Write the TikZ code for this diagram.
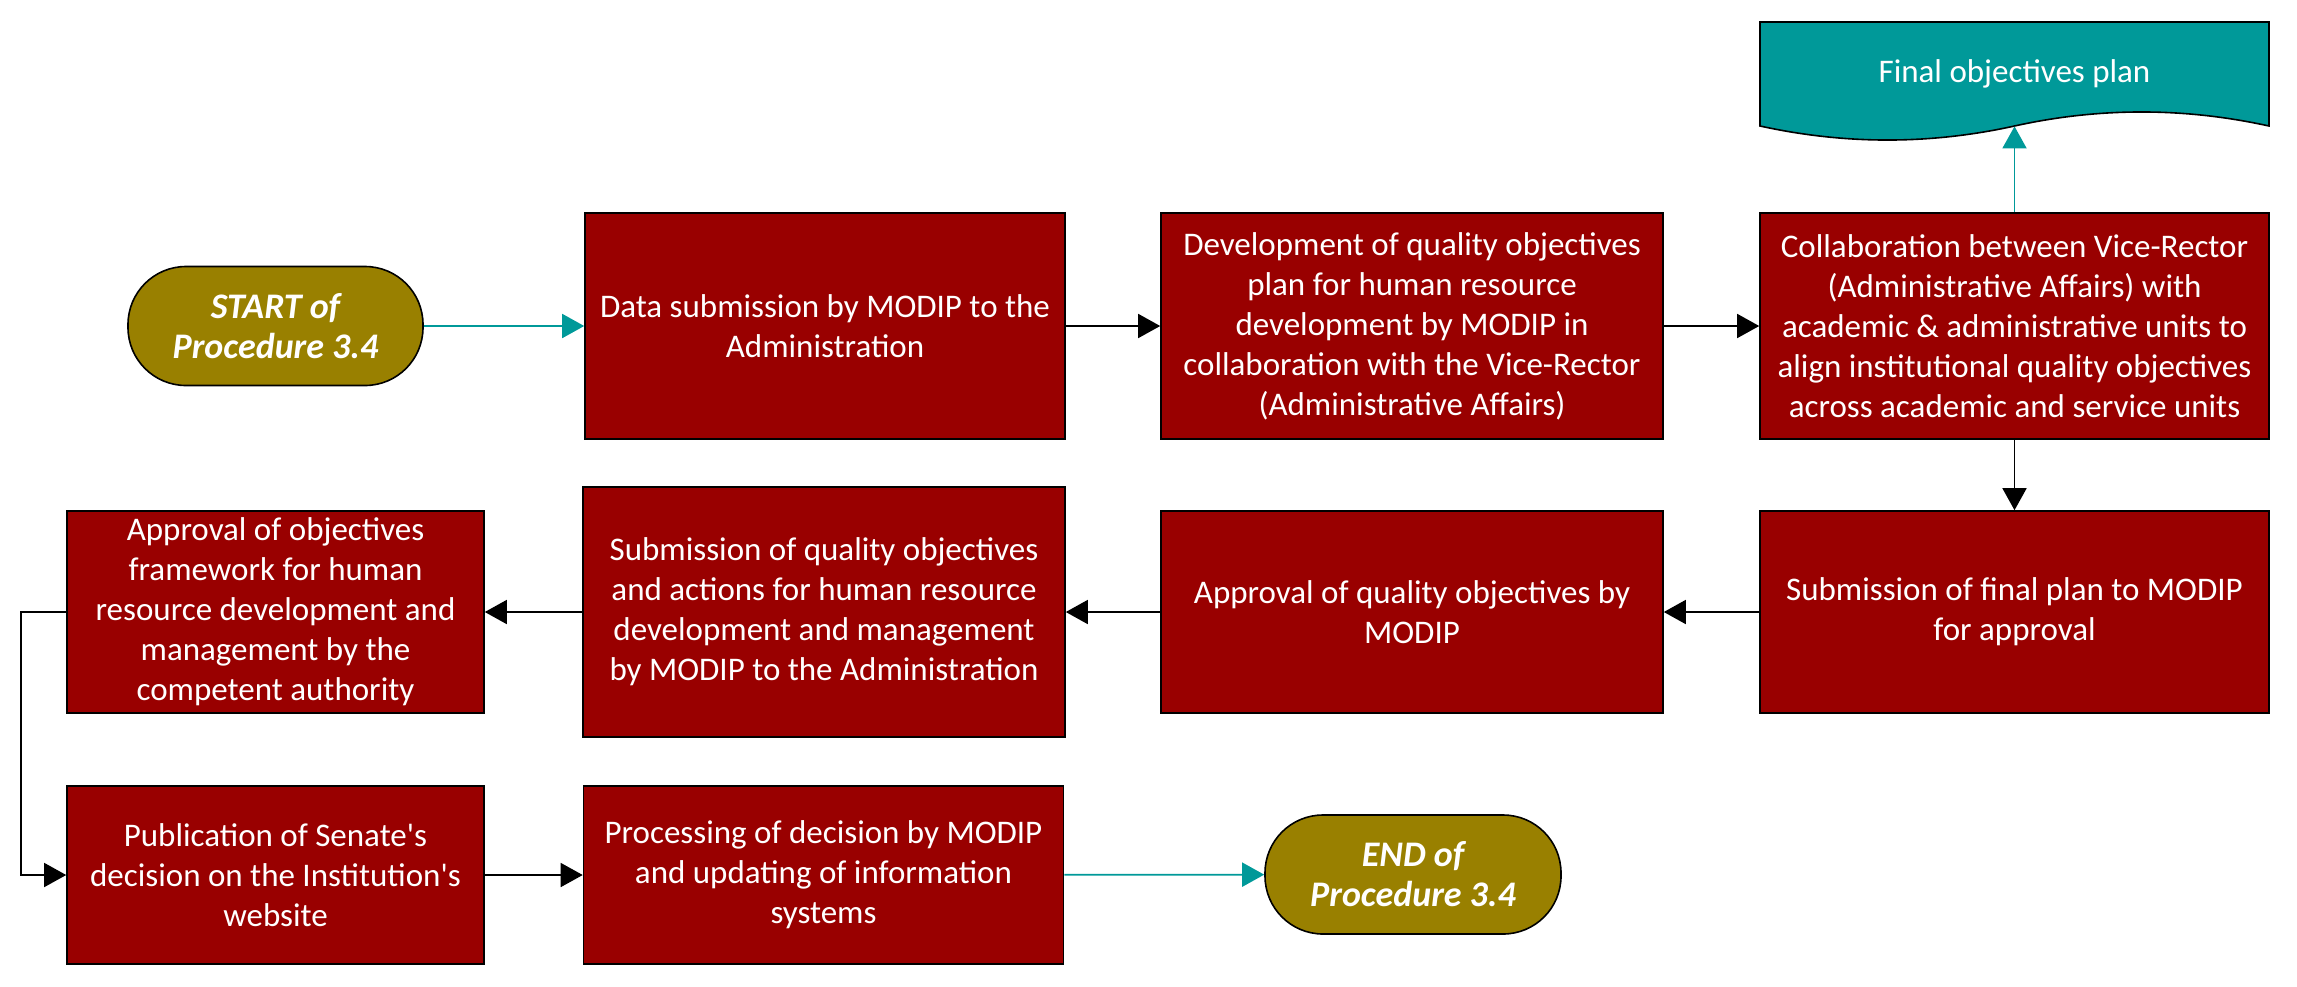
\documentclass[tikz,border=0pt]{standalone}
\usepackage{xcolor}
\usepackage{fontspec}
\setmainfont{Carlito}
\usepackage{tikz}
\usetikzlibrary{arrows.meta}
\definecolor{boxred}{RGB}{153,0,0}
\definecolor{termgold}{RGB}{153,128,0}
\definecolor{planteal}{RGB}{0,153,153}

\begin{document}
\begin{tikzpicture}[x=0.5pt,y=-0.5pt,font=\fontsize{16.5pt}{20pt}\selectfont,
    flow/.style={draw=black,line width=0.8pt,-{Triangle[length=11pt,width=12pt]}},
    tealflow/.style={draw=planteal,line width=0.9pt,-{Triangle[length=11pt,width=12pt]}}]
          \useasboundingbox (0,0) rectangle (2297,986);
          % document shape
          \filldraw[fill=planteal,draw=black,line width=0.8pt] (1760,22) -- (2269,22) -- (2269,126)
            .. controls (2184,107.3) and (2099,107.3) .. (2014.5,126)
            .. controls (1930,144.7) and (1845,144.7) .. (1760,126) -- cycle;
          \node[text=white,minimum width=254.5pt,minimum height=52pt,inner sep=0pt] (plan) at (2014.5,74) {Final objectives plan\\[-12pt]};
          \begin{scope}[every node/.style={draw=black,line width=0.8pt,fill=boxred,text=white,align=center,inner sep=2pt}]
            \node[minimum width=240pt,minimum height=113pt] (b1) at (825,326) {Data submission by MODIP to the\\Administration};
            \node[minimum width=251pt,minimum height=113pt] (b2) at (1412,326) {Development of quality objectives\\plan for human resource\\development by MODIP in\\collaboration with the Vice-Rector\\(Administrative Affairs)};
            \node[minimum width=254.5pt,minimum height=113pt] (b3) at (2014.5,326) {Collaboration between Vice-Rector\\(Administrative Affairs) with\\academic \& administrative units to\\align institutional quality objectives\\across academic and service units};
            \node[minimum width=254.5pt,minimum height=101pt] (b4) at (2014.5,612) {Submission of final plan to MODIP\\for approval};
            \node[minimum width=251pt,minimum height=101pt] (b5) at (1412,612) {Approval of quality objectives by\\MODIP};
            \node[minimum width=241pt,minimum height=125pt] (b6) at (824,612) {Submission of quality objectives\\and actions for human resource\\development and management\\by MODIP to the Administration};
            \node[minimum width=208.5pt,minimum height=101pt] (b7) at (275.5,612) {Approval of objectives\\framework for human\\resource development and\\management by the\\competent authority};
            \node[minimum width=208.5pt,minimum height=89pt] (b8) at (275.5,875) {Publication of Senate\textquotesingle s\\decision on the Institution\textquotesingle s\\website};
            \node[minimum width=240pt,minimum height=89pt] (b9) at (823.5,875) {Processing of decision by MODIP\\and updating of information\\systems};
          \end{scope}
          \begin{scope}[every node/.style={draw=black,line width=0.8pt,fill=termgold,text=white,align=center,rounded corners=29pt,font=\fontsize{18pt}{20pt}\selectfont\bfseries\itshape}]
            \node[minimum width=147.5pt,minimum height=59.5pt] (start) at (275.5,326) {START of\\Procedure 3.4};
            \node[minimum width=148pt,minimum height=59.5pt] (end) at (1413,874.5) {END of\\Procedure 3.4};
          \end{scope}
          \begin{scope}[every edge/.style={flow}]
            \path (start) edge[tealflow] (b1);
            \path (b1) edge (b2);
            \path (b2) edge (b3);
            \path (b3) edge[tealflow] (plan.south);
            \path (b3) edge (b4);
            \path (b4) edge (b5);
            \path (b5) edge (b6);
            \path (b6) edge (b7);
            \path (b8) edge (b9);
            \path (b9) edge[tealflow] (end);
          \end{scope}
          \draw[flow] (b7.west) -- ++(-45,0) |- (b8.west);
        \end{tikzpicture}
\end{document}
